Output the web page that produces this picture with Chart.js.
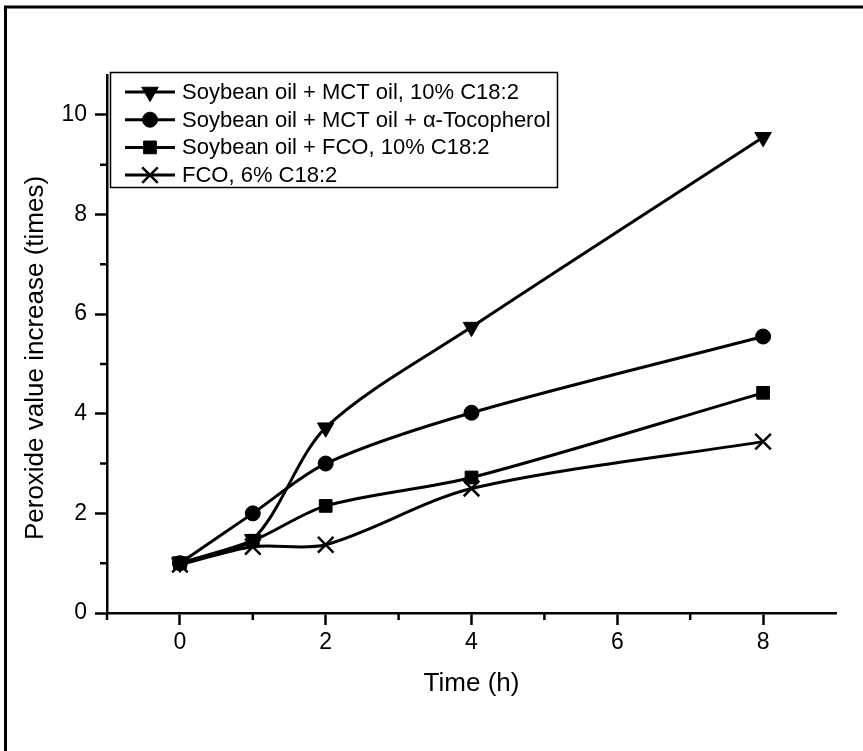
<!DOCTYPE html>
<html>
<head>
<meta charset="utf-8">
<script src="https://cdn.jsdelivr.net/npm/chart.js@4.4.1/dist/chart.umd.min.js"></script>
<style>
html,body{margin:0;padding:0;background:#fff;}
canvas{display:block;}
</style>
</head>
<body>
<canvas id="c" width="863" height="751"></canvas>
<script>
// ---- data ----
const timeH = [0, 1, 2, 4, 8];
const soyMct = [1.0, 1.48, 3.72, 5.74, 9.55];
const soyMctToc = [1.0, 2.0, 3.0, 4.02, 5.55];
const soyFco = [1.0, 1.45, 2.15, 2.72, 4.42];
const fco = [0.97, 1.33, 1.37, 2.5, 3.44];
const seriesLabels = [
  'Soybean oil + MCT oil, 10% C18:2',
  'Soybean oil + MCT oil + \u03B1-Tocopherol',
  'Soybean oil + FCO, 10% C18:2',
  'FCO, 6% C18:2'
];
const xTicks = [0, 2, 4, 6, 8];
const xMinor = [-1, 1, 3, 5, 7];
const yTicks = [0, 2, 4, 6, 8, 10];
const yMinor = [1, 3, 5, 7, 9];
const xTitle = 'Time (h)';
const yTitle = 'Peroxide value increase (times)';

const FONT = '"Liberation Sans", Arial, Helvetica, sans-serif';
const pts = arr => arr.map((v, i) => ({x: timeH[i], y: v}));

function ds(label, data, style, radius, rot, bw) {
  return {
    label, data: pts(data),
    borderColor: '#000', backgroundColor: '#000', borderWidth: 3,
    pointStyle: style, pointRadius: radius, pointRotation: rot,
    pointBorderWidth: bw, pointBackgroundColor: '#000', pointBorderColor: '#000',
    pointHoverRadius: radius,
    tension: 0.3, fill: false, clip: false
  };
}

const datasets = [
  ds(seriesLabels[0], soyMct, 'triangle', 9.5, 180, 1),
  ds(seriesLabels[1], soyMctToc, 'circle', 7.5, 0, 1),
  ds(seriesLabels[2], soyFco, 'rect', 9, 0, 1),
  ds(seriesLabels[3], fco, 'crossRot', 11, 0, 2.5)
];

const decor = {
  id: 'decor',
  beforeDraw(chart) {
    const ctx = chart.ctx;
    ctx.save();
    ctx.fillStyle = '#fff';
    ctx.fillRect(0, 0, chart.width, chart.height);
    ctx.restore();
  },
  afterDraw(chart) {
    const ctx = chart.ctx;
    const xs = chart.scales.x, ys = chart.scales.y;
    const area = chart.chartArea;
    ctx.save();
    // outer frame (top + left)
    ctx.strokeStyle = '#000';
    ctx.lineWidth = 3;
    ctx.beginPath();
    ctx.moveTo(4, 7); ctx.lineTo(863, 7);
    ctx.moveTo(5.5, 6); ctx.lineTo(5.5, 751);
    ctx.stroke();
    // minor ticks
    ctx.lineWidth = 2.5;
    ctx.beginPath();
    xMinor.forEach(v => {
      const px = xs.getPixelForValue(v);
      ctx.moveTo(px, area.bottom); ctx.lineTo(px, area.bottom + 7);
    });
    yMinor.forEach(v => {
      const py = ys.getPixelForValue(v);
      ctx.moveTo(area.left - 7, py); ctx.lineTo(area.left, py);
    });
    ctx.stroke();
    // y title
    ctx.save();
    ctx.translate(43, 358);
    ctx.rotate(-Math.PI / 2);
    ctx.fillStyle = '#000';
    ctx.font = '26px ' + FONT;
    ctx.textAlign = 'center';
    ctx.textBaseline = 'alphabetic';
    ctx.fillText(yTitle, 0, 0);
    ctx.restore();
    // legend box
    ctx.lineWidth = 1.5;
    ctx.strokeRect(110.5, 72.5, 447, 115);
    chart.data.datasets.forEach((d, i) => {
      const y = 92 + i * 27.7;
      ctx.strokeStyle = '#000';
      ctx.fillStyle = '#000';
      ctx.lineWidth = 3;
      ctx.beginPath(); ctx.moveTo(125, y); ctx.lineTo(175, y); ctx.stroke();
      ctx.lineWidth = d.pointBorderWidth;
      Chart.helpers.drawPoint(ctx, {
        pointStyle: d.pointStyle, radius: d.pointRadius,
        rotation: d.pointRotation, borderWidth: d.pointBorderWidth
      }, 150, y);
      ctx.fillStyle = '#000';
      ctx.font = '22px ' + FONT;
      ctx.textAlign = 'left';
      ctx.textBaseline = 'middle';
      ctx.fillText(d.label, 182, y + 1);
    });
    ctx.restore();
  }
};

new Chart(document.getElementById('c'), {
  type: 'line',
  data: { datasets },
  options: {
    responsive: false,
    animation: false,
    devicePixelRatio: 1,
    layout: { padding: { left: 0, top: 75, right: 27, bottom: 0 } },
    plugins: { legend: { display: false }, tooltip: { enabled: false } },
    scales: {
      x: {
        type: 'linear', min: -1, max: 9,
        afterFit(s) { s.height = 138; },
        afterBuildTicks(s) { s.ticks = xTicks.map(v => ({value: v})); },
        border: { display: true, color: '#000', width: 2.5 },
        grid: { display: true, drawOnChartArea: false, drawTicks: true, tickLength: 12, tickWidth: 2.5, tickColor: '#000' },
        ticks: { color: '#000', font: { family: FONT, size: 23 }, padding: 4, maxRotation: 0, autoSkip: false },
        title: { display: true, text: xTitle, color: '#000', font: { family: FONT, size: 26 }, padding: { top: 0, bottom: 52 } }
      },
      y: {
        type: 'linear', min: 0, max: 10.8,
        afterFit(s) { s.width = 107; },
        afterBuildTicks(s) { s.ticks = yTicks.map(v => ({value: v})); },
        border: { display: true, color: '#000', width: 2.5 },
        grid: { display: true, drawOnChartArea: false, drawTicks: true, tickLength: 12, tickWidth: 2.5, tickColor: '#000' },
        ticks: { color: '#000', font: { family: FONT, size: 23 }, padding: 8, autoSkip: false }
      }
    }
  },
  plugins: [decor]
});
</script>
</body>
</html>
